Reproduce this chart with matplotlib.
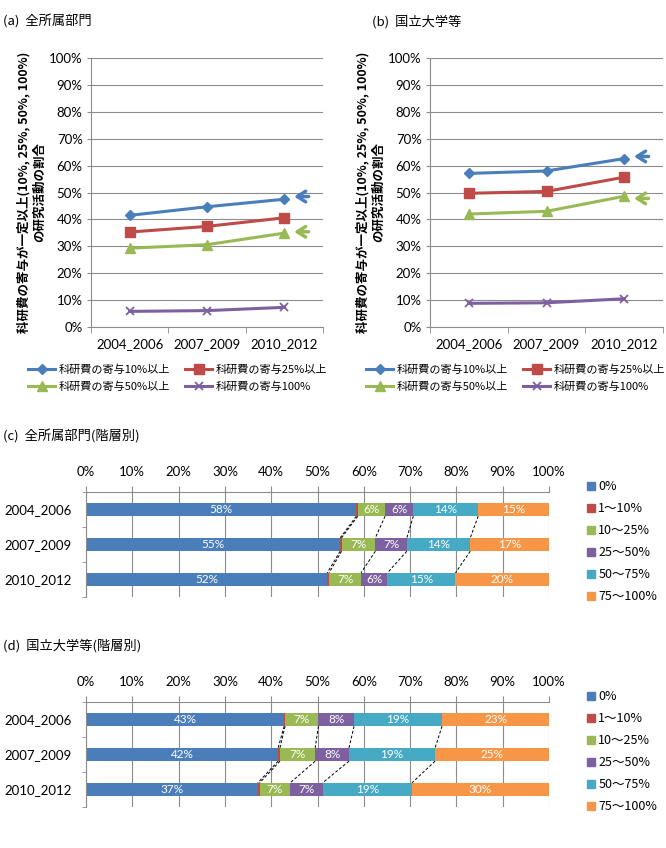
import numpy as np
import matplotlib
matplotlib.use("Agg")
import matplotlib.pyplot as plt
from matplotlib.patches import Patch

plt.rcParams['font.family'] = ['Noto Sans CJK JP', 'DejaVu Sans']

W, H = 666, 848

periods = ["2004_2006", "2007_2009", "2010_2012"]

# line charts: share of research activities with KAKENHI contribution >= threshold (%)
series_names = ["科研費の寄与10%以上", "科研費の寄与25%以上", "科研費の寄与50%以上", "科研費の寄与100%"]
all_10 = [41.5, 44.7, 47.5]
all_25 = [35.3, 37.4, 40.6]
all_50 = [29.3, 30.6, 34.9]
all_100 = [5.8, 6.1, 7.3]
nat_10 = [57.1, 58.0, 62.6]
nat_25 = [49.7, 50.4, 55.7]
nat_50 = [42.0, 43.0, 48.6]
nat_100 = [8.8, 9.0, 10.5]

# stacked bars by contribution level (%)
level_names = ["0%", "1～10%", "10～25%", "25～50%", "50～75%", "75～100%"]
all_levels = [
    [58.4, 0.3, 5.9, 6.1, 14.0, 15.3],
    [54.9, 0.3, 7.3, 6.8, 13.7, 17.0],
    [52.1, 0.4, 6.9, 5.7, 14.7, 20.2],
]
nat_levels = [
    [42.8, 0.2, 7.2, 7.7, 19.0, 23.1],
    [41.5, 0.4, 7.6, 7.3, 18.6, 24.6],
    [37.1, 0.4, 6.6, 7.0, 19.3, 29.6],
]
all_labels = [
    ["58%", "", "6%", "6%", "14%", "15%"],
    ["55%", "", "7%", "7%", "14%", "17%"],
    ["52%", "", "7%", "6%", "15%", "20%"],
]
nat_labels = [
    ["43%", "", "7%", "8%", "19%", "23%"],
    ["42%", "", "7%", "8%", "19%", "25%"],
    ["37%", "", "7%", "7%", "19%", "30%"],
]

line_colors = ["#4A7EBB", "#BE4B48", "#98B954", "#7D60A0"]
line_markers = ["D", "s", "^", "x"]
line_msize = [5, 7, 7, 6]
bar_colors = ["#4A7EBB", "#BE4B48", "#98B954", "#7D60A0", "#46AAC5", "#F79646"]
grid_c = "#8C8C8C"
num_font = ['Lato', 'Noto Sans CJK JP']

fig = plt.figure(figsize=(W / 100, H / 100), dpi=100)


def px_axes(left, top, right, bottom):
    return fig.add_axes([left / W, 1 - bottom / H, (right - left) / W, (bottom - top) / H])


def line_chart(ax, data, arrows, leg_x):
    x = np.arange(len(periods))
    handles = []
    for vals, c, m, ms, name in zip(data, line_colors, line_markers, line_msize, series_names):
        h, = ax.plot(x, vals, color=c, lw=2.2, marker=m, ms=ms, mew=1.3 if m == "x" else 1,
                     label=name)
        handles.append(h)
    ax.set_xlim(-0.5, 2.5)
    ax.set_ylim(0, 100)
    ax.set_yticks(np.arange(0, 101, 10))
    ax.set_yticklabels([f"{v}%" for v in range(0, 101, 10)], family=num_font, fontsize=9.5)
    ax.set_xticks(x)
    ax.set_xticklabels(periods, family=num_font, fontsize=9.5)
    ax.set_xticks([-0.5, 0.5, 1.5, 2.5], minor=True)
    ax.tick_params(axis='x', which='major', length=0, pad=8)
    ax.tick_params(axis='x', which='minor', length=4, color=grid_c)
    ax.tick_params(axis='y', length=3, color=grid_c, pad=3)
    ax.grid(axis='y', color=grid_c, lw=0.8)
    ax.set_axisbelow(True)
    for s in ["top", "right"]:
        ax.spines[s].set_visible(False)
    for s in ["left", "bottom"]:
        ax.spines[s].set_color(grid_c)
    ax.set_ylabel("科研費の寄与が一定以上(10%, 25%, 50%, 100%)\nの研究活動の割合",
                  fontsize=9, fontweight='bold', linespacing=1.25, labelpad=2)
    for yv, c in arrows:
        ax.annotate('', xy=(2.09, yv), xytext=(2.35, yv),
                    arrowprops=dict(arrowstyle='->,head_length=0.6,head_width=0.38',
                                    color=c, lw=2.5))
    order = [0, 2, 1, 3]
    fig.legend([handles[i] for i in order], [series_names[i] for i in order], ncol=2,
               loc='upper left', bbox_to_anchor=(leg_x / W, 1 - 360 / H), frameon=False,
               fontsize=8, handlelength=2.4, columnspacing=1.4, labelspacing=0.55,
               handletextpad=0.3, borderaxespad=0)


ax_a = px_axes(91, 58, 323, 327)
line_chart(ax_a, [all_10, all_25, all_50, all_100], [(48.5, line_colors[0]), (35.4, line_colors[2])], 24)
ax_b = px_axes(430, 58, 663, 327)
line_chart(ax_b, [nat_10, nat_25, nat_50, nat_100], [(63.4, line_colors[0]), (47.8, line_colors[2])], 362)

fig.text(3 / W, 1 - 22 / H, "(a)  全所属部門", fontsize=9.5, va='center')
fig.text(372 / W, 1 - 22 / H, "(b)  国立大学等", fontsize=9.5, va='center')


def bar_chart(ax, levels, labels):
    y = np.arange(len(periods))
    levels = np.array(levels)
    left = np.zeros(len(periods))
    bh = 0.38
    for j in range(levels.shape[1]):
        ax.barh(y, levels[:, j], left=left, height=bh, color=bar_colors[j], label=level_names[j])
        for i in range(len(periods)):
            if labels[i][j]:
                ax.text(left[i] + levels[i, j] / 2, y[i], labels[i][j], color='white',
                        ha='center', va='center', fontsize=8.5, family=num_font)
        left = left + levels[:, j]
    cum = np.cumsum(levels, axis=1)
    for i in range(len(periods) - 1):
        for j in range(levels.shape[1]):
            ax.plot([cum[i, j], cum[i + 1, j]], [y[i] + bh / 2, y[i + 1] - bh / 2],
                    color='black', lw=0.7, ls=(0, (3, 2)))
    ax.set_xlim(0, 100)
    ax.set_ylim(2.5, -0.5)
    ax.set_xticks(np.arange(0, 101, 10))
    ax.set_xticklabels([f"{v}%" for v in range(0, 101, 10)], family=num_font, fontsize=9.5)
    ax.xaxis.tick_top()
    ax.tick_params(axis='x', length=4, color=grid_c, pad=6)
    ax.set_yticks(y)
    ax.set_yticklabels(periods, family=num_font, fontsize=9.5)
    ax.set_yticks([-0.5, 0.5, 1.5, 2.5], minor=True)
    ax.tick_params(axis='y', which='major', length=0, pad=10)
    ax.tick_params(axis='y', which='minor', length=3, color=grid_c)
    ax.grid(axis='x', color=grid_c, lw=0.8)
    ax.set_axisbelow(True)
    for s in ["right", "bottom"]:
        ax.spines[s].set_visible(False)
    for s in ["left", "top"]:
        ax.spines[s].set_color(grid_c)


def bar_legend(top_px):
    handles = [Patch(color=c) for c in bar_colors]
    fig.legend(handles, level_names, loc='upper left', bbox_to_anchor=(582 / W, 1 - top_px / H),
               frameon=False, fontsize=9, handlelength=0.6, handleheight=0.6,
               handletextpad=0.3, labelspacing=0.72, borderaxespad=0)


ax_c = px_axes(86, 492, 549, 597)
bar_chart(ax_c, all_levels, all_labels)
bar_legend(475)
fig.text(3 / W, 1 - 437 / H, "(c)  全所属部門(階層別)", fontsize=9.5, va='center')

ax_d = px_axes(86, 702, 549, 807)
bar_chart(ax_d, nat_levels, nat_labels)
bar_legend(685)
fig.text(3 / W, 1 - 646 / H, "(d)  国立大学等(階層別)", fontsize=9.5, va='center')

fig.savefig("out.png", dpi=100)
